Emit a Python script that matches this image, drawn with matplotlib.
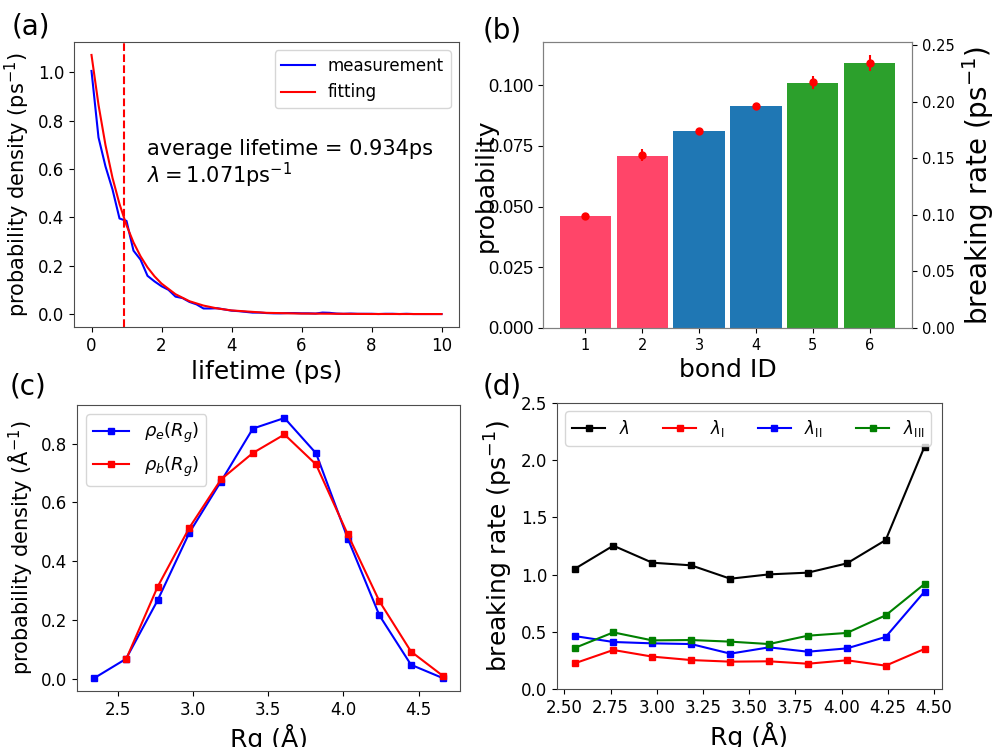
import numpy as np
import matplotlib
matplotlib.use("Agg")
import matplotlib.pyplot as plt

# (a) lifetime distribution
lifetime_t = np.linspace(0, 10, 51)
lifetime_meas = [1.005, 0.73, 0.61, 0.515, 0.395, 0.385, 0.262, 0.225, 0.158, 0.135,
                 0.115, 0.100, 0.072, 0.066, 0.050, 0.040, 0.023, 0.023, 0.024, 0.019,
                 0.014, 0.012, 0.009, 0.006, 0.006, 0.004, 0.003, 0.003, 0.004, 0.004,
                 0.003, 0.003, 0.002, 0.006, 0.005, 0.002, 0.001, 0.002, 0.001, 0.001,
                 0.001, 0.000, 0.001, 0.001, 0.000, 0.001, 0.000, 0.000, 0.000, 0.000,
                 0.000]
fit_t = [0, 0.2, 0.4, 0.6, 0.8, 1.0, 1.2, 1.4, 1.6, 1.8, 2.0, 2.4, 2.8, 3.2, 3.6,
         4.0, 5.0, 6.0, 8.0, 10.0]
fit_p = [1.071, 0.865, 0.698, 0.563, 0.455, 0.367, 0.296, 0.239, 0.193, 0.156,
         0.126, 0.082, 0.053, 0.035, 0.023, 0.015, 0.005, 0.002, 0.0002, 0.0]
avg_lifetime = 0.934

# (b) bond statistics
bond_id = [1, 2, 3, 4, 5, 6]
bond_prob = [0.046, 0.071, 0.081, 0.0915, 0.101, 0.109]
bond_colors = ["#ff4569", "#ff4569", "#1f77b4", "#1f77b4", "#2ca02c", "#2ca02c"]
bond_rate = [0.099, 0.153, 0.174, 0.196, 0.217, 0.234]
bond_rate_err = [0.001, 0.005, 0.003, 0.0015, 0.006, 0.0068]

# (c) Rg distributions
rg = [2.345, 2.555, 2.765, 2.976, 3.186, 3.398, 3.608, 3.818, 4.029, 4.239, 4.449, 4.659]
rho_e = [0.003, 0.068, 0.267, 0.497, 0.671, 0.851, 0.887, 0.767, 0.477, 0.216, 0.048, 0.003]
rho_b = [0.066, 0.313, 0.514, 0.678, 0.768, 0.831, 0.729, 0.491, 0.264, 0.093, 0.011]

# (d) breaking rate vs Rg
rg_d = rg[1:11]
lam = [1.049, 1.253, 1.104, 1.081, 0.964, 1.002, 1.017, 1.098, 1.302, 2.118]
lam_1 = [0.224, 0.341, 0.283, 0.253, 0.239, 0.242, 0.221, 0.251, 0.204, 0.350]
lam_2 = [0.463, 0.411, 0.399, 0.393, 0.309, 0.364, 0.326, 0.355, 0.455, 0.851]
lam_3 = [0.358, 0.495, 0.425, 0.428, 0.414, 0.393, 0.466, 0.490, 0.644, 0.918]

fig = plt.figure(figsize=(10.05, 7.47), dpi=100)
W, H = 1005, 747


def rect(left, right, top, bottom):
    return [left / W, (H - bottom) / H, (right - left) / W, (bottom - top) / H]


def grey_spines(ax, c="0.3"):
    for s in ax.spines.values():
        s.set_color(c)


# ---- (a)
ax_a = fig.add_axes(rect(74, 459, 42, 327))
ax_a.plot(lifetime_t, lifetime_meas, color="b", lw=1.5, label="measurement")
ax_a.plot(fit_t, fit_p, color="r", lw=1.5, label="fitting")
ax_a.axvline(avg_lifetime, color="r", ls="--", lw=1.5)
ax_a.set_xticks([0, 2, 4, 6, 8, 10])
ax_a.set_yticks([0.0, 0.2, 0.4, 0.6, 0.8, 1.0])
ax_a.tick_params(labelsize=12)
ax_a.set_xlabel("lifetime (ps)", fontsize=18)
ax_a.set_ylabel("probability density (ps$^{-1}$)", fontsize=15)
ax_a.legend(loc="upper right", fontsize=12)
ax_a.text(1.58, 0.656, "average lifetime = %.3fps" % avg_lifetime, fontsize=15)
ax_a.text(1.58, 0.54, r"$\lambda = 1.071$ps$^{-1}$", fontsize=15)
grey_spines(ax_a)

# ---- (b)
ax_b = fig.add_axes(rect(543, 912, 42, 328))
ax_b.bar(bond_id, bond_prob, width=0.9, color=bond_colors)
ax_b.set_ylim(0, max(bond_prob) * 1.08)
ax_b.set_yticks([0.0, 0.025, 0.05, 0.075, 0.1])
ax_b.set_yticklabels(["0.000", "0.025", "0.050", "0.075", "0.100"],
                     fontsize=13, family="Liberation Sans")
ax_b.set_xticks(bond_id)
ax_b.tick_params(axis="x", labelsize=10.5)
ax_b.set_xlabel("bond ID", fontsize=18)
ax_b.set_ylabel("probability", fontsize=18, labelpad=-7)
ax_b2 = ax_b.twinx()
ax_b2.errorbar(bond_id, bond_rate, yerr=bond_rate_err, fmt="o", color="r",
               ms=5, elinewidth=1.5)
ax_b2.set_ylim(0, max(bond_rate) * 1.08)
ax_b2.set_yticks([0.0, 0.05, 0.1, 0.15, 0.2, 0.25])
ax_b2.tick_params(labelsize=10.5)
ax_b2.set_ylabel("breaking rate (ps$^{-1}$)", fontsize=20)
grey_spines(ax_b, "0.5")
grey_spines(ax_b2, "0.5")

# ---- (c)
ax_c = fig.add_axes(rect(77, 460, 405, 691))
ax_c.plot(rg, rho_e, "s-", color="b", ms=5, lw=1.5, label=r"$\rho_e(R_g)$")
ax_c.plot(rg[1:], rho_b, "s-", color="r", ms=5, lw=1.5, label=r"$\rho_b(R_g)$")
ax_c.set_xticks([2.5, 3.0, 3.5, 4.0, 4.5])
ax_c.set_yticks([0.0, 0.2, 0.4, 0.6, 0.8])
ax_c.tick_params(labelsize=12)
ax_c.set_xlabel("Rg (Å)", fontsize=18)
ax_c.set_ylabel("probability density (Å$^{-1}$)", fontsize=15)
ax_c.legend(loc="upper left", fontsize=13)
grey_spines(ax_c)

# ---- (d)
ax_d = fig.add_axes(rect(557, 942, 403, 689))
ax_d.plot(rg_d, lam, "s-", color="k", ms=4, lw=1.5, label=r"$\lambda$")
ax_d.plot(rg_d, lam_1, "s-", color="r", ms=4, lw=1.5, label=r"$\lambda_{\rm I}$")
ax_d.plot(rg_d, lam_2, "s-", color="b", ms=4, lw=1.5, label=r"$\lambda_{\rm II}$")
ax_d.plot(rg_d, lam_3, "s-", color="g", ms=4, lw=1.5, label=r"$\lambda_{\rm III}$")
ax_d.set_ylim(0, 2.5)
ax_d.set_xticks([2.5, 2.75, 3.0, 3.25, 3.5, 3.75, 4.0, 4.25, 4.5])
ax_d.set_yticks([0.0, 0.5, 1.0, 1.5, 2.0, 2.5])
ax_d.tick_params(labelsize=12)
ax_d.set_xlabel("Rg (Å)", fontsize=18)
ax_d.set_ylabel("breaking rate (ps$^{-1}$)", fontsize=18)
ax_d.legend(loc="upper left", ncol=4, fontsize=12)
grey_spines(ax_d)

# panel letters
fig.text(12 / W, 1 - 12 / H, "(a)", fontsize=20, va="top")
fig.text(483 / W, 1 - 16 / H, "(b)", fontsize=20, va="top")
fig.text(10 / W, 1 - 373 / H, "(c)", fontsize=20, va="top")
fig.text(483 / W, 1 - 373 / H, "(d)", fontsize=20, va="top")

fig.savefig("out.png", dpi=100)
